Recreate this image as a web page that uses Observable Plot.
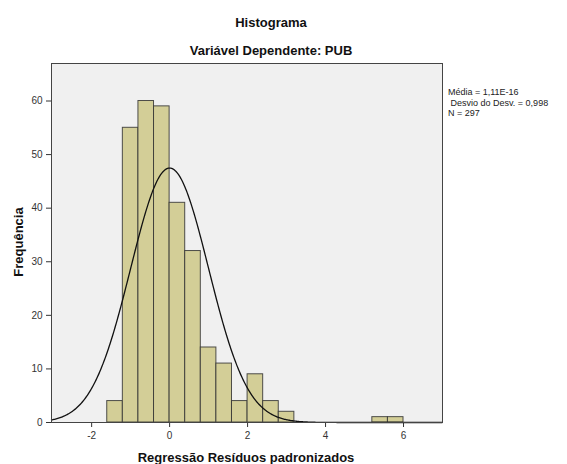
<!DOCTYPE html>
<html><head><meta charset="utf-8">
<style>body{margin:0;background:#fff}svg{display:block}</style>
<script src="https://cdn.jsdelivr.net/npm/d3@7"></script>
<script src="https://cdn.jsdelivr.net/npm/@observablehq/plot@0.6"></script>
</head><body><div id="chart"></div>
<script>
const binStart = [-1.6,-1.2,-0.8,-0.4,0,0.4,0.8,1.2,1.6,2.0,2.4,2.8,5.2,5.6];
const binEnd   = [-1.2,-0.8,-0.4,0,0.4,0.8,1.2,1.6,2.0,2.4,2.8,3.2,5.6,6.0];
const counts   = [4,55,60,59,41,32,14,11,4,9,4,2,1,1];
const xTicks = [-2,0,2,4,6];
const yTicks = [0,10,20,30,40,50,60];
const mean = 1.11e-16, sd = 0.998, n = 297, binWidth = 0.4;
const legendLines = ["Média = 1,11E-16", " Desvio do Desv. = 0,998", "N = 297"];

const bins = binStart.map((s,i)=>({x1:s,x2:binEnd[i],y:counts[i]}));
const curveX = d3.range(-3.03, 7.001, 0.02);
const curve = curveX.map(x=>({x, y: n*binWidth/(sd*Math.sqrt(2*Math.PI))*Math.exp(-0.5*((x-mean)/sd)**2)}));

const W=567,H=464,mL=51,mR=125,mT=63,mB=42;
const plot = Plot.plot({
  width:W,height:H,marginLeft:mL,marginRight:mR,marginTop:mT,marginBottom:mB,
  style:{fontFamily:"Liberation Sans, Arial, sans-serif",fontSize:"10px",color:"#333"},
  x:{domain:[-3.03,7],ticks:xTicks,tickSize:5,label:null,tickFormat:d=>d},
  y:{domain:[0,67],ticks:yTicks,tickSize:5,label:null,tickFormat:d=>d},
  marks:[
    Plot.frame({fill:"#f0f0f0",stroke:"none"}),
    Plot.rectY(bins,{x1:"x1",x2:"x2",y:"y",fill:"#d3ce97",stroke:"#333",strokeWidth:1,strokeOpacity:0.85,inset:0}),
    Plot.line(curve,{x:"x",y:"y",stroke:"#111",strokeWidth:1.3}),
    Plot.frame({stroke:"#444",strokeWidth:1})
  ]
});
document.getElementById("chart").appendChild(plot);
const svg = d3.select(plot);
const F="Liberation Sans, Arial, sans-serif";
svg.append("text").attr("x",271).attr("y",27).attr("text-anchor","middle").attr("font-family",F).attr("font-weight","bold").attr("font-size",13).attr("fill","#111").text("Histograma");
svg.append("text").attr("x",271).attr("y",55).attr("text-anchor","middle").attr("font-family",F).attr("font-weight","bold").attr("font-size",13).attr("fill","#111").text("Variável Dependente: PUB");
svg.append("text").attr("x",246).attr("y",462).attr("text-anchor","middle").attr("font-family",F).attr("font-weight","bold").attr("font-size",13).attr("fill","#111").text("Regressão Resíduos padronizados");
svg.append("text").attr("transform","translate(23,242) rotate(-90)").attr("text-anchor","middle").attr("font-family",F).attr("font-weight","bold").attr("font-size",13).attr("fill","#111").text("Frequência");
legendLines.forEach((t,i)=>svg.append("text").attr("x",448).attr("y",95+i*10.5).attr("text-anchor","start").attr("font-family",F).attr("font-size",9).attr("fill","#222").style("white-space","pre").text(t));
</script></body></html>
